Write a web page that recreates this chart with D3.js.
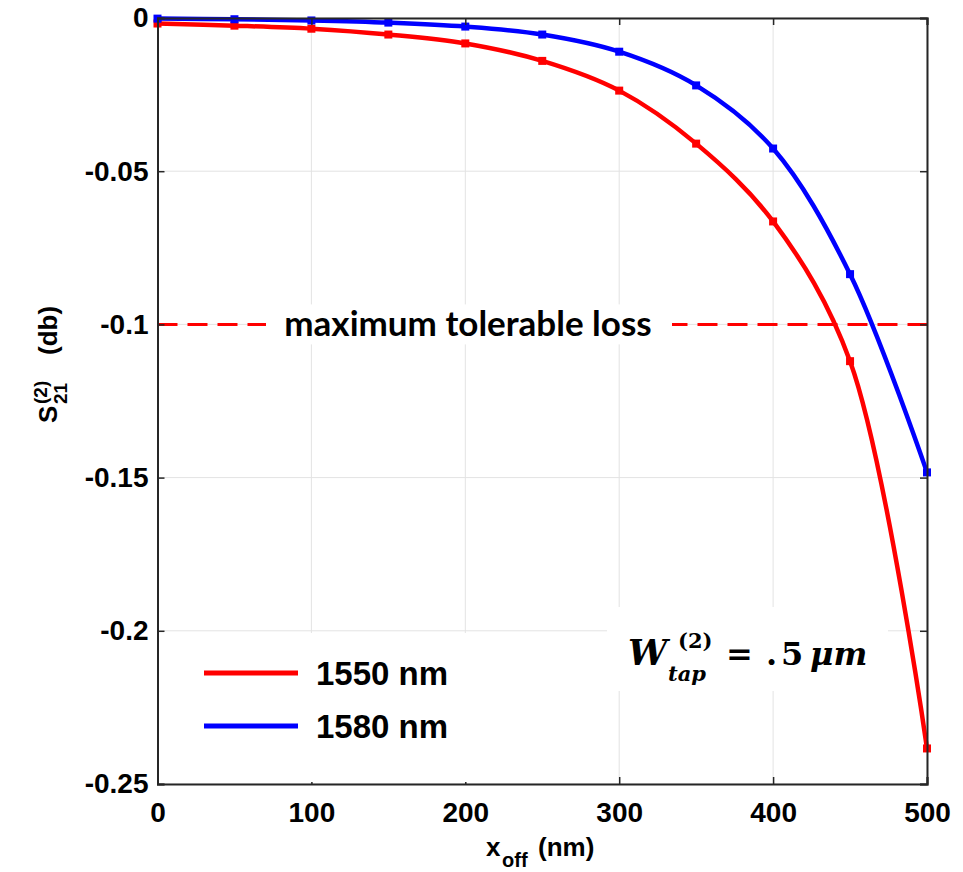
<!DOCTYPE html>
<html><head><meta charset="utf-8">
<script src="https://cdn.jsdelivr.net/npm/d3@7"></script>
<style>
body{margin:0;background:#fff;}
svg{display:block;}
.tick text{font-family:"Liberation Sans",Arial,sans-serif;font-weight:bold;font-size:28px;fill:#000;}
</style></head>
<body>
<svg id="chart" width="963" height="872"></svg>
<script>
const xOff = [0,50,100,150,200,250,300,350,400,450,500];
const s1550 = [-0.0018,-0.0025,-0.0035,-0.0054,-0.0083,-0.014,-0.0237,-0.041,-0.0664,-0.112,-0.2384];
const s1580 = [-0.0002,-0.0004,-0.0008,-0.0015,-0.0028,-0.0054,-0.011,-0.022,-0.0426,-0.0836,-0.1483];
const xTicks = [0,100,200,300,400,500];
const yTicks = [0,-0.05,-0.1,-0.15,-0.2,-0.25];
const yTickLabels = ["0","-0.05","-0.1","-0.15","-0.2","-0.25"];
const seriesNames = ["1550 nm","1580 nm"];
const seriesColors = ["#ff0000","#0000ff"];
const threshold = -0.1;

const svg = d3.select("#chart");
const L=157.5, R=927, T=18, B=784;
const x = d3.scaleLinear().domain([0,500]).range([L,R]);
const y = d3.scaleLinear().domain([0,-0.25]).range([T,B]);

// grid
const g = svg.append("g");
g.selectAll(".gx").data(xTicks).enter().append("line")
  .attr("x1",d=>x(d)).attr("x2",d=>x(d)).attr("y1",T).attr("y2",B)
  .attr("stroke","#e3e3e3").attr("stroke-width",1);
g.selectAll(".gy").data(yTicks).enter().append("line")
  .attr("y1",d=>y(d)).attr("y2",d=>y(d)).attr("x1",L).attr("x2",R)
  .attr("stroke","#e3e3e3").attr("stroke-width",1);

// threshold line
svg.append("line").attr("x1",L).attr("x2",R).attr("y1",y(threshold)).attr("y2",y(threshold))
  .attr("stroke","#ff0000").attr("stroke-width",3).attr("stroke-dasharray","20,10");
svg.append("rect").attr("x",266).attr("y",y(threshold)-20).attr("width",406).attr("height",40).attr("fill","#fff");
svg.append("text").attr("x",468).attr("y",y(threshold)+12).attr("text-anchor","middle")
  .attr("font-family","Lato, 'Open Sans', sans-serif").attr("font-weight","bold").attr("font-size",35)
  .text("maximum tolerable loss");

// series
const seriesData = [s1550,s1580];
const line = d3.line().x((d,i)=>x(xOff[i])).y(d=>y(d)).curve(d3.curveCatmullRom.alpha(0.5));
seriesData.forEach((s,k)=>{
  svg.append("path").datum(s).attr("d",line).attr("fill","none")
    .attr("stroke",seriesColors[k]).attr("stroke-width",4.5);
  svg.selectAll(".m"+k).data(s).enter().append("rect")
    .attr("x",(d,i)=>x(xOff[i])-4).attr("y",d=>y(d)-4).attr("width",8).attr("height",8)
    .attr("fill",seriesColors[k]);
});

// axes
const xAxis = d3.axisBottom(x).tickValues(xTicks).tickSize(-7).tickPadding(18).tickFormat(d3.format("d"));
const yAxis = d3.axisLeft(y).tickValues(yTicks).tickSize(-7).tickPadding(9).tickFormat((d,i)=>yTickLabels[i]);
const xa = svg.append("g").attr("transform",`translate(0,${B})`).call(xAxis);
const ya = svg.append("g").attr("transform",`translate(${L},0)`).call(yAxis);
const xaTop = svg.append("g").attr("transform",`translate(0,${T})`).call(d3.axisTop(x).tickValues(xTicks).tickSize(-7).tickFormat(""));
const yaR = svg.append("g").attr("transform",`translate(${R},0)`).call(d3.axisRight(y).tickValues(yTicks).tickSize(-7).tickFormat(""));
[xa,ya,xaTop,yaR].forEach(a=>{
  a.select(".domain").attr("stroke","#262626").attr("stroke-width",2);
  a.selectAll(".tick line").attr("stroke","#262626").attr("stroke-width",1.5);
});

// legend
svg.append("rect").attr("x",160).attr("y",633).attr("width",447).attr("height",149).attr("fill","#fff");
seriesNames.forEach((n,k)=>{
  const yy = 673 + k*53;
  svg.append("line").attr("x1",204).attr("x2",298).attr("y1",yy).attr("y2",yy)
    .attr("stroke",seriesColors[k]).attr("stroke-width",5);
  svg.append("text").attr("x",316).attr("y",yy+12)
    .attr("font-family","'Liberation Sans',Arial,sans-serif").attr("font-weight","bold").attr("font-size",33)
    .text(n);
});

// W annotation
svg.append("rect").attr("x",607).attr("y",607).attr("width",281).attr("height",84).attr("fill","#fff");
const wf = "'DejaVu Serif','Liberation Serif',serif";
const wt = svg.append("text").attr("font-family",wf).attr("font-weight","bold").attr("font-size",32);
wt.append("tspan").attr("x",628).attr("y",665).attr("font-style","italic").attr("font-size",35).text("W");
wt.append("tspan").attr("x",678).attr("y",648).attr("font-size",21).text("(2)");
wt.append("tspan").attr("x",668).attr("y",681).attr("font-style","italic").attr("font-size",21).text("tap");
wt.append("tspan").attr("x",726).attr("y",665).text("=");
wt.append("tspan").attr("x",766).attr("y",665).text(".");
wt.append("tspan").attr("x",781).attr("y",665).text("5");
wt.append("tspan").attr("x",810).attr("y",665).attr("font-style","italic").text("μm");

// y label
const yl = svg.append("text").attr("transform","translate(57,423) rotate(-90)")
  .attr("font-family","'Liberation Sans',Arial,sans-serif").attr("font-weight","bold").attr("font-size",26);
yl.append("tspan").attr("x",0).attr("y",0).text("S");
yl.append("tspan").attr("x",19).attr("y",-10).attr("font-size",19).text("(2)");
yl.append("tspan").attr("x",19).attr("y",10).attr("font-size",19).text("21");
yl.append("tspan").attr("x",68).attr("y",0).text("(db)");

// x label
const xl = svg.append("text").attr("font-family","'Liberation Sans',Arial,sans-serif").attr("font-weight","bold").attr("font-size",26);
xl.append("tspan").attr("x",486).attr("y",856).text("x");
xl.append("tspan").attr("x",502).attr("y",867).attr("font-size",20).text("off");
xl.append("tspan").attr("x",538).attr("y",856).text("(nm)");
</script>
</body></html>
